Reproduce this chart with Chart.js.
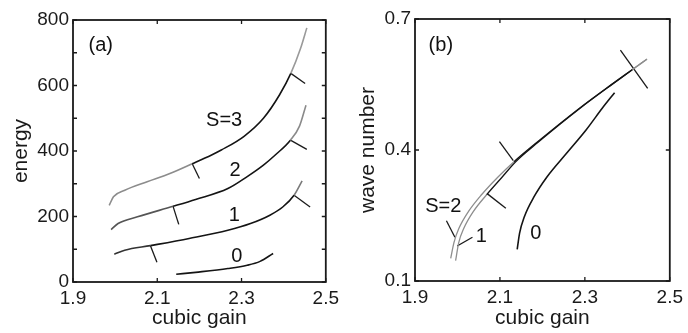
<!DOCTYPE html>
<html><head><meta charset="utf-8">
<style>
html,body{margin:0;padding:0;background:#fff;}
#wrap{position:relative;width:688px;height:333px;overflow:hidden;}
.c{position:absolute;top:0;width:344px;height:333px;}
</style>
<script src="https://cdn.jsdelivr.net/npm/chart.js@4/dist/chart.umd.min.js"></script>
</head><body>
<div id="wrap">
<div class="c" style="left:0"><canvas id="ca" width="344" height="333"></canvas></div>
<div class="c" style="left:344px"><canvas id="cb" width="344" height="333"></canvas></div>
</div>
<script>
// ---------- tick labels ----------
const xTicks = [1.9, 2.1, 2.3, 2.5];
const yTicksA = [0, 100, 200, 300, 400, 500, 600, 700, 800];
const yLabelsA = [0, 200, 400, 600, 800];
const yTicksB = [0.1, 0.4, 0.7];

// ---------- panel (a): energy vs cubic gain ----------
const aS3x = [1.986, 1.996, 2.023, 2.076, 2.130, 2.183, 2.229, 2.252, 2.306, 2.352, 2.390, 2.417, 2.440, 2.455];
const aS3y = [234, 260, 280, 306, 331, 361, 388, 403, 445, 500, 571, 637, 713, 776];
const aS2x = [1.9905, 2.007, 2.053, 2.1375, 2.191, 2.2676, 2.3135, 2.352, 2.382, 2.416, 2.4376, 2.453];
const aS2y = [160, 178.5, 199, 231, 252, 285.5, 322, 357, 390, 433, 476, 540];
const aS1x = [1.998, 2.0227, 2.0838, 2.1757, 2.2676, 2.3213, 2.3673, 2.3978, 2.4247, 2.4438];
const aS1y = [85, 97, 111, 133, 158, 178.5, 204, 229, 265, 309];
const aS0x = [2.145, 2.191, 2.2676, 2.3135, 2.344, 2.375];
const aS0y = [23.5, 29.5, 41, 51, 63, 87];
// stability-change marks on the curves (segment end points)
const aMarksX = [[2.183, 2.200], [2.417, 2.451], [2.1375, 2.151], [2.416, 2.455], [2.0838, 2.0992], [2.4247, 2.4628]];
const aMarksY = [[361, 316], [637, 606], [231, 176], [433, 405], [111, 60], [265, 229]];

// ---------- panel (b): wave number vs cubic gain ----------
const b0x = [2.1407, 2.1462, 2.1575, 2.1804, 2.2111, 2.2569, 2.3028, 2.3409, 2.3700];
const b0y = [0.1726, 0.2092, 0.2472, 0.2930, 0.3388, 0.3924, 0.4458, 0.4955, 0.5312];
const bS2x = [1.9841, 1.9917, 2.0032, 2.0261, 2.0566, 2.0949, 2.1331, 2.1866, 2.2858, 2.3624, 2.4119, 2.4463];
const bS2y = [0.1520, 0.1880, 0.2200, 0.2594, 0.2975, 0.3377, 0.3732, 0.4171, 0.4945, 0.5497, 0.5843, 0.6084];
const bS1x = [1.9956, 2.0030, 2.0147, 2.0376, 2.0686, 2.1049, 2.1371, 2.1891, 2.2873, 2.3634, 2.4124, 2.4463];
const bS1y = [0.1465, 0.1880, 0.2200, 0.2594, 0.2975, 0.3377, 0.3732, 0.4171, 0.4945, 0.5497, 0.5843, 0.6080];
const bMarksX = [[2.3837, 2.4479], [2.0988, 2.1315], [2.0706, 2.1139], [1.9740, 1.9940], [1.9993, 2.0353]];
const bMarksY = [[0.6290, 0.5413], [0.4190, 0.3755], [0.2995, 0.2665], [0.2381, 0.2001], [0.1801, 0.2001]];

// ---------- styles ----------
const FONT = "'Liberation Sans', Arial, Helvetica, sans-serif";
Chart.defaults.font.family = FONT;
Chart.defaults.color = '#1a1a1a';

function pts(xs, ys) { return xs.map((x, i) => ({ x: x, y: ys[i] })); }

function curve(xs, ys, st) {
  return {
    data: pts(xs, ys),
    borderColor: st.mid,
    borderWidth: st.w || 1.6,
    pointRadius: 0,
    cubicInterpolationMode: 'monotone',
    fill: false,
    segment: {
      borderColor: ctx => {
        const xm = (ctx.p0.parsed.x + ctx.p1.parsed.x) / 2;
        if (xm < st.lo) return st.before;
        if (xm > st.hi) return st.after;
        return st.mid;
      }
    }
  };
}
function marks(mx, my) {
  return mx.map((xs, i) => ({
    data: pts(xs, my[i]),
    borderColor: '#1a1a1a',
    borderWidth: 1.3,
    pointRadius: 0,
    tension: 0,
    fill: false
  }));
}

const framePlugin = {
  id: 'frame',
  afterDatasetsDraw(chart, args, opts) {
    const { ctx, chartArea: a } = chart;
    const x = chart.scales.x, y = chart.scales.y;
    ctx.save();
    ctx.strokeStyle = '#1a1a1a';
    ctx.lineWidth = 1.8;
    ctx.strokeRect(a.left, a.top, a.right - a.left, a.bottom - a.top);
    ctx.lineWidth = 1.3;
    ctx.beginPath();
    x.ticks.forEach(t => {
      const p = x.getPixelForValue(t.value);
      ctx.moveTo(p, a.bottom); ctx.lineTo(p, a.bottom - 4);
      ctx.moveTo(p, a.top); ctx.lineTo(p, a.top + 4);
    });
    y.ticks.forEach(t => {
      const p = y.getPixelForValue(t.value);
      ctx.moveTo(a.left, p); ctx.lineTo(a.left + 4, p);
      ctx.moveTo(a.right, p); ctx.lineTo(a.right - 4, p);
    });
    ctx.stroke();
    ctx.fillStyle = '#111';
    ctx.textAlign = 'center';
    ctx.textBaseline = 'middle';
    (opts.labels || []).forEach(l => {
      ctx.font = '20px ' + FONT;
      ctx.fillText(l.text, x.getPixelForValue(l.x), y.getPixelForValue(l.y));
    });
    ctx.restore();
  }
};

function makeChart(id, datasets, yTicks, yLabelFn, yMin, yMax, yTitle, yWidth, xHeight, pad, yTitlePad, labels) {
  return new Chart(document.getElementById(id), {
    type: 'line',
    data: { datasets: datasets },
    options: {
      responsive: false,
      animation: false,
      devicePixelRatio: 1,
      layout: { padding: pad },
      plugins: { legend: { display: false }, tooltip: { enabled: false }, frame: { labels: labels } },
      scales: {
        x: {
          type: 'linear', min: 1.9, max: 2.5,
          grid: { display: false, drawTicks: false }, border: { display: false },
          afterBuildTicks: s => { s.ticks = xTicks.map(v => ({ value: v })); },
          afterFit: s => { s.height = xHeight; },
          ticks: { font: { size: 19 }, padding: 5, maxRotation: 0, autoSkip: false, color: '#1a1a1a',
                   callback: v => Number(v).toFixed(1) },
          title: { display: true, text: 'cubic gain', font: { size: 21 }, color: '#1a1a1a', padding: { top: 2, bottom: 2 } }
        },
        y: {
          type: 'linear', min: yMin, max: yMax,
          grid: { display: false, drawTicks: false }, border: { display: false },
          afterBuildTicks: s => { s.ticks = yTicks.map(v => ({ value: v })); },
          afterFit: s => { s.width = yWidth; },
          ticks: { font: { size: 19 }, padding: 4, autoSkip: false, color: '#1a1a1a', callback: yLabelFn },
          title: { display: true, text: yTitle, font: { size: 21 }, color: '#1a1a1a', padding: { top: yTitlePad, bottom: 0 } }
        }
      }
    },
    plugins: [framePlugin]
  });
}

// panel (a)
const dsA = [
  curve(aS3x, aS3y, { lo: 2.183, hi: 2.417, before: '#8c8c8c', mid: '#141414', after: '#9a9a9a' }),
  curve(aS2x, aS2y, { lo: 2.1375, hi: 2.416, before: '#555', mid: '#141414', after: '#8a8a8a' }),
  curve(aS1x, aS1y, { lo: 2.0838, hi: 2.4247, before: '#333', mid: '#141414', after: '#7a7a7a' }),
  curve(aS0x, aS0y, { lo: 0, hi: 9, before: '#141414', mid: '#141414', after: '#141414' })
].concat(marks(aMarksX, aMarksY));

makeChart('ca', dsA, yTicksA, v => (yLabelsA.includes(v) ? String(v) : ''), 0, 800, 'energy', 73, 51,
  { left: 0, right: 10, top: 20, bottom: 0 }, 9,
  [{ text: '(a)', x: 1.9659, y: 723.6 }, { text: 'S=3', x: 2.2588, y: 492.8 },
   { text: '2', x: 2.2848, y: 341.5 }, { text: '1', x: 2.283, y: 202.4 }, { text: '0', x: 2.2887, y: 79.2 }]);

// panel (b)
const dsB = [
  curve(b0x, b0y, { lo: 0, hi: 9, before: '#141414', mid: '#141414', after: '#141414' }),
  curve(bS2x, bS2y, { lo: 2.1331, hi: 2.4119, before: '#8e8e8e', mid: '#141414', after: '#8e8e8e', w: 1.3 }),
  curve(bS1x, bS1y, { lo: 2.0706, hi: 2.4124, before: '#8e8e8e', mid: '#141414', after: '#8e8e8e', w: 1.3 })
].concat(marks(bMarksX, bMarksY));

makeChart('cb', dsB, yTicksB, v => Number(v).toFixed(1), 0.1, 0.7, 'wave number', 71, 52,
  { left: 0, right: 10, top: 19, bottom: 0 }, 12,
  [{ text: '(b)', x: 1.9608, y: 0.6404 }, { text: 'S=2', x: 1.9665, y: 0.2717 },
   { text: '1', x: 2.0559, y: 0.2019 }, { text: '0', x: 2.1843, y: 0.2088 }]);
</script>
</body></html>
